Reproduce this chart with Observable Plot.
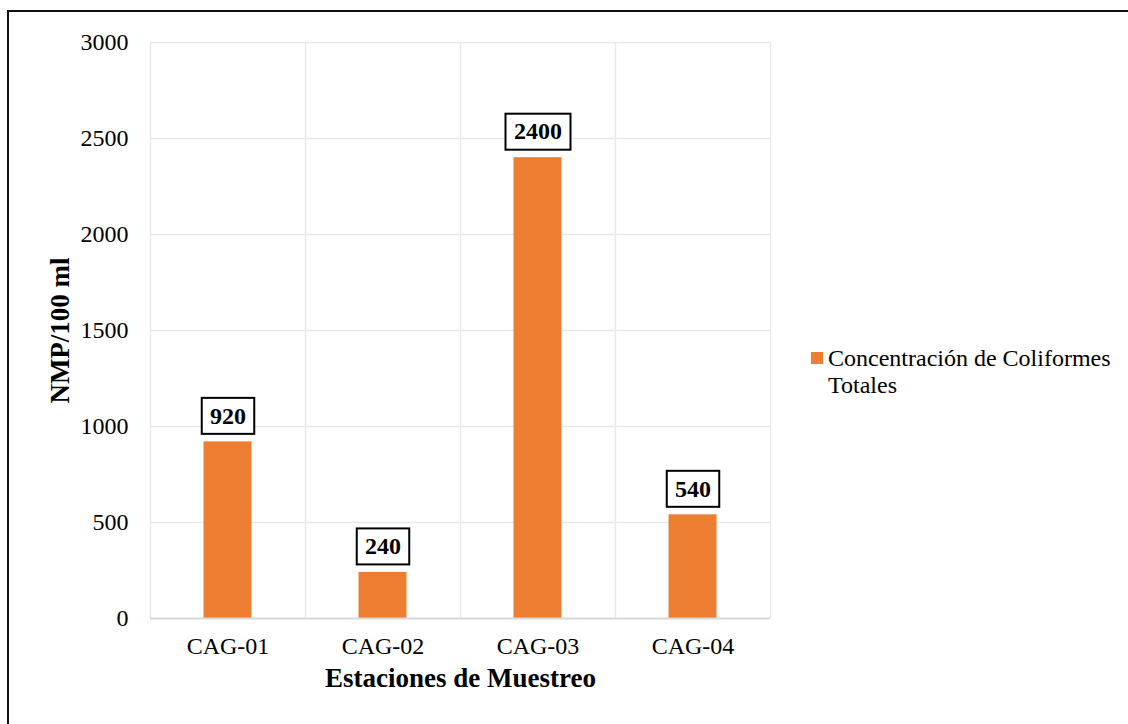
<!DOCTYPE html>
<html>
<head>
<meta charset="utf-8">
<script src="https://cdn.jsdelivr.net/npm/d3@7"></script>
<script src="https://cdn.jsdelivr.net/npm/@observablehq/plot@0.6"></script>
<style>
  html, body { margin: 0; padding: 0; background: #fff; overflow: hidden; }
  #wrap { position: relative; width: 1128px; height: 724px; font-family: "Liberation Serif", "Times New Roman", serif; color: #000; }
  #frame { position: absolute; left: 7px; top: 10px; width: 1200px; height: 800px; border: 2px solid #111; box-sizing: border-box; }
  #chart { position: absolute; left: 0; top: 0; }
  #legend { position: absolute; left: 811px; top: 345px; display: flex; align-items: flex-start; font-size: 24px; line-height: 27px; }
  #legend .sw { width: 12px; height: 12px; background: #ED7D31; margin-top: 7px; margin-right: 5px; flex: none; }
  #legend .tx { width: 295px; }
</style>
</head>
<body>
<div id="wrap">
  <div id="frame"></div>
  <div id="chart"></div>
  <div id="legend"><div class="sw"></div><div class="tx" id="legendText"></div></div>
</div>
<script>
const stations = ["CAG-01", "CAG-02", "CAG-03", "CAG-04"];
const values = [920, 240, 2400, 540];
const yTicks = [0, 500, 1000, 1500, 2000, 2500, 3000];
const seriesName = "Concentración de Coliformes Totales";
const xTitle = "Estaciones de Muestreo";
const yTitle = "NMP/100 ml";
const barColor = "#ED7D31";

const data = stations.map((s, i) => ({station: s, value: values[i]}));
const font = "'Liberation Serif', 'Times New Roman', serif";
const step = (1128 - 150 - 358) / stations.length;

document.getElementById("legendText").textContent = seriesName;

const chart = Plot.plot({
  width: 1128,
  height: 724,
  marginLeft: 150,
  marginRight: 358,
  marginTop: 42,
  marginBottom: 106,
  style: {fontFamily: font, color: "#000", background: "transparent"},
  x: {domain: stations, padding: 0},
  y: {domain: [0, 3000]},
  marks: [
    Plot.gridY(yTicks, {stroke: "#e9e9e9", strokeOpacity: 1, strokeWidth: 1.5}),
    Plot.ruleX(stations, {stroke: "#e9e9e9", strokeWidth: 1.5, dx: -step / 2}),
    Plot.ruleX(stations.slice(-1), {stroke: "#e9e9e9", strokeWidth: 1.5, dx: step / 2}),
    Plot.axisY(yTicks, {tickSize: 0, tickPadding: 22, fontSize: 24, label: null, fill: "#000", tickFormat: d => String(d)}),
    Plot.axisX({tickSize: 0, tickPadding: 18, fontSize: 24, label: null, fill: "#000"}),
    Plot.barY(data, {x: "station", y: "value", fill: barColor, insetLeft: (step - 48) / 2, insetRight: (step - 48) / 2}),
    Plot.ruleY([0], {stroke: "#d9d9d9", strokeWidth: 2}),
    Plot.text(data, {
      x: "station", y: "value", text: d => String(d.value), dy: -26,
      fontSize: 24, fontWeight: "bold", fill: "#000",
      render(index, scales, vals, dimensions, context, next) {
        const g = next(index, scales, vals, dimensions, context);
        const ns = "http://www.w3.org/2000/svg";
        const bg = document.createElementNS(ns, "g");
        for (const i of index) {
          const n = String(data[i].value).length;
          const w = 12.5 * n + 15, h = 36;
          const r = document.createElementNS(ns, "rect");
          r.setAttribute("x", vals.x[i] - w / 2);
          r.setAttribute("y", vals.y[i] - h / 2);
          r.setAttribute("width", w);
          r.setAttribute("height", h);
          r.setAttribute("fill", "#fff");
          r.setAttribute("stroke", "#000");
          r.setAttribute("stroke-width", 2);
          bg.appendChild(r);
        }
        g.insertBefore(bg, g.firstChild);
        return g;
      }
    }),
    Plot.text([yTitle], {frameAnchor: "left", textAnchor: "middle", rotate: -90, dx: -90, fontSize: 27, fontWeight: "bold", fill: "#000"}),
    Plot.text([xTitle], {frameAnchor: "bottom", dy: 68, fontSize: 27, fontWeight: "bold", fill: "#000"})
  ]
});
document.getElementById("chart").appendChild(chart);
</script>
</body>
</html>
